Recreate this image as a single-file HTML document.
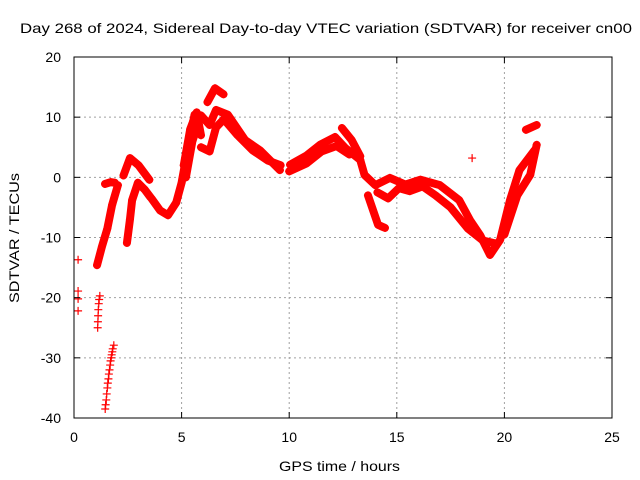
<!DOCTYPE html>
<html><head><meta charset="utf-8"><style>
body{margin:0;background:#fff}
svg{display:block;font-family:"Liberation Sans",sans-serif}
</style></head><body>
<svg id="c" width="640" height="480">
<text x="20" y="33" font-size="14" textLength="612" lengthAdjust="spacingAndGlyphs">Day 268 of 2024, Sidereal Day-to-day VTEC variation (SDTVAR) for receiver cn00</text>
<text x="279" y="471" font-size="14" textLength="121" lengthAdjust="spacingAndGlyphs">GPS time / hours</text>
<text transform="translate(19,303) rotate(-90)" font-size="14" textLength="130" lengthAdjust="spacingAndGlyphs">SDTVAR / TECUs</text>
<g id="grid"></g><g id="marks"></g><g id="axes"></g>
</svg>
<script>
const xTicks=[0,5,10,15,20,25];
const yTicks=[-40,-30,-20,-10,0,10,20];
const trackA=[[1.07,-14.6],[1.3,-11.5],[1.55,-8.5],[1.77,-4.6],[2.04,-1.3]];
const trackA2=[[1.44,-1.1],[1.7,-0.8],[1.9,-0.9]];
const trackB=[[2.46,-10.9],[2.6,-7],[2.7,-3.8],[2.97,-0.9],[3.3,-2.1],[3.55,-3.3]];
const trackC=[[2.3,0.3],[2.6,3.2],[3.0,2.0],[3.5,-0.4]];
const trackD=[[3.6,-3.5],[4.0,-5.5],[4.37,-6.3],[4.75,-4.2],[5.0,-0.9],[5.3,5],[5.6,10.4]];
const trackE=[[5.2,0],[5.5,6],[5.9,10.3],[6.3,8.7],[6.6,11.2],[7.15,10.4],[7.95,6.2],[8.64,4.5],[9.57,1.2]];
const trackE2=[[7.0,9.5],[7.6,7.0],[8.3,4.5],[9.0,2.8],[9.6,2.0]];
const trackF=[[6.2,12.5],[6.55,14.8],[6.95,13.8]];
const trackG=[[5.9,5],[6.3,4.3],[6.6,8.3],[7.0,9.8]];
const trackN=[[5.1,2],[5.4,8],[5.7,10.8],[5.9,7]];
const trackH=[[10.04,2.1],[10.8,3.6],[11.43,5.4],[12.13,6.7],[12.6,4.9],[13.3,2.9],[13.5,0.4],[14.0,-1.3],[14.68,-0.1],[15.4,-1.2],[16.1,-0.4],[17.0,-1.3],[17.9,-3.8],[18.4,-7.1],[18.87,-9.6],[19.33,-12.9],[19.8,-10.4],[20.26,-3.8],[20.7,1.2],[21.4,4.5]];
const trackH2=[[10.0,1.0],[10.8,2.3],[11.5,4.3],[12.2,5.2],[12.8,3.8]];
const trackI=[[12.45,8.2],[12.9,6.2],[13.3,3.5]];
const trackJ=[[13.66,-3],[14.13,-7.9],[14.45,-8.4]];
const trackK=[[14.1,-2.5],[14.6,-3.5],[15.1,-1.8],[15.6,-2.3],[16.2,-1.5],[16.8,-3.0],[17.5,-5.0],[18.3,-8.5],[19.0,-10.5],[19.6,-11.0]];
const trackL=[[20.0,-9.5],[20.6,-3],[21.2,0.4],[21.5,5.4]];
const trackM=[[21.0,7.9],[21.5,8.7]];
const scatterH=[0.19,0.19,0.19,0.19,1.1,1.11,1.12,1.13,1.15,1.17,1.2,1.45,1.47,1.5,1.52,1.55,1.57,1.6,1.62,1.65,1.68,1.7,1.73,1.75,1.78,1.8,1.85,18.5];
const scatterV=[-13.7,-18.9,-20.2,-22.2,-25,-24,-23,-22,-21,-20.3,-19.7,-38.5,-37.8,-37,-36,-35,-34.2,-33.5,-32.7,-32,-31.2,-30.5,-30,-29.5,-29,-28.5,-27.9,3.2];
const tracks=[trackA,trackA2,trackB,trackC,trackD,trackE,trackE2,trackF,trackG,trackN,trackH,trackH2,trackI,trackJ,trackK,trackL,trackM];
const X0=74,X1=612,Y0=418,Y1=57;
const xs=h=>X0+(X1-X0)*h/25;
const ys=v=>Y0-(Y0-Y1)*(v+40)/60;
const NS='http://www.w3.org/2000/svg';
const mk=(t,a,p)=>{const e=document.createElementNS(NS,t);for(const k in a)e.setAttribute(k,a[k]);p.appendChild(e);return e;};
const grid=document.getElementById('grid'),marks=document.getElementById('marks'),axes=document.getElementById('axes');
xTicks.forEach(t=>{const x=xs(t);
 if(t>0&&t<25){const g=mk('line',{x1:x,x2:x,y1:Y1,y2:Y0,stroke:'#a0a0a0','stroke-dasharray':'2,3'},grid);
 }
 mk('line',{x1:x,x2:x,y1:Y0,y2:Y0-6,stroke:'#000'},axes);mk('line',{x1:x,x2:x,y1:Y1,y2:Y1+6,stroke:'#000'},axes);
 const l=mk('text',{x:x,y:Y0+24,'font-size':14,'text-anchor':'middle'},axes);l.textContent=t;
 });
yTicks.forEach(t=>{const y=ys(t);
 if(t>-40&&t<20){const g=mk('line',{x1:X0,x2:X1,y1:y,y2:y,stroke:'#a0a0a0','stroke-dasharray':'2,3'},grid);
 }
 mk('line',{x1:X0,x2:X0+6,y1:y,y2:y,stroke:'#000'},axes);mk('line',{x1:X1,x2:X1-6,y1:y,y2:y,stroke:'#000'},axes);
 const l=mk('text',{x:X0-13,y:y+5,'font-size':14,'text-anchor':'end'},axes);l.textContent=t;
 });
const fr=mk('rect',{x:X0,y:Y1,width:X1-X0,height:Y0-Y1,fill:'none',stroke:'#000'},axes);

function plus(h,v){const x=xs(h),y=ys(v);
 const p=mk('path',{d:`M${x-4} ${y}H${x+4}M${x} ${y-4}V${y+4}`,stroke:'#f00','stroke-width':1.2},marks);
 }
tracks.forEach(tr=>{
 const pl=mk('polyline',{points:tr.map(p=>xs(p[0])+','+ys(p[1])).join(' '),fill:'none',stroke:'#f00','stroke-width':8,'stroke-linejoin':'round','stroke-linecap':'round'},marks);
 
 tr.forEach(p=>plus(p[0],p[1]));});
scatterH.forEach((h,i)=>plus(h,scatterV[i]));
</script>
</body></html>
